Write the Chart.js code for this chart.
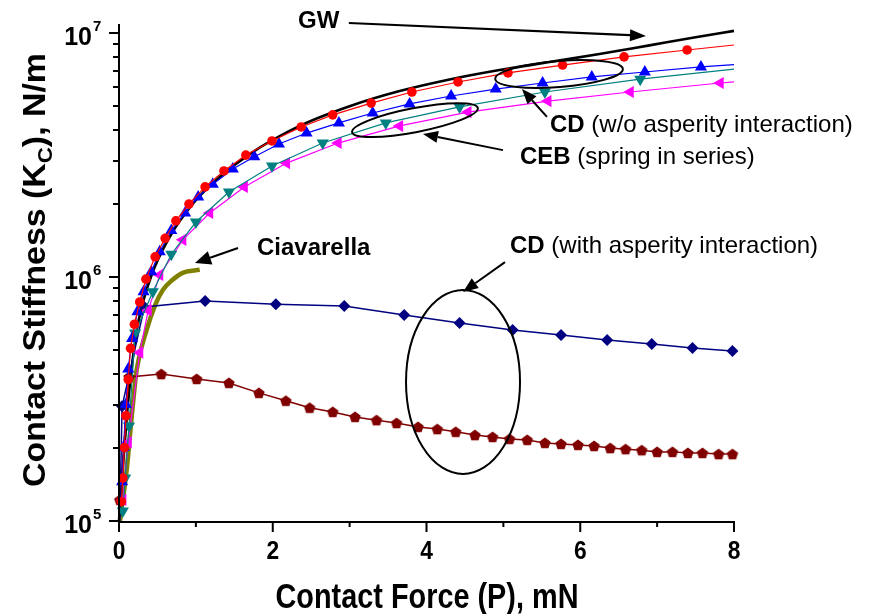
<!DOCTYPE html>
<html><head><meta charset="utf-8">
<script src="https://cdn.jsdelivr.net/npm/chart.js@4.4.1/dist/chart.umd.min.js"></script>
<style>html,body{margin:0;padding:0;background:#fff}#wrap{width:871px;height:614px}</style>
</head><body><div id="wrap"><canvas id="c" width="871" height="614"></canvas></div>
<script>
// ---------- data (force P in mN, stiffness Kc in N/m) ----------
const gwForce = [0, 0.03, 0.12, 0.23, 0.40, 0.66, 0.98, 1.31, 1.70, 2.35, 3.0, 3.65, 4.3, 4.95, 5.6, 6.25, 6.9, 7.5, 8.0];
const gwStiffness = [1.0e5, 1.35e5, 3.1e5, 6.0e5, 9.7e5, 1.46e6, 2.03e6, 2.57e6, 3.19e6, 4.16e6, 5.01e6, 5.78e6, 6.45e6, 7.05e6, 7.6e6, 8.2e6, 8.9e6, 9.6e6, 1.02e7];

const cdCircleForce = [0.03,0.05,0.07,0.09,0.12,0.15,0.2,0.27,0.35,0.47,0.60,0.74,0.91,1.12,1.365,1.65,1.99,2.37,2.78,3.28,3.81,4.41,5.06,5.77,6.57,7.39,8.0];
const cdCircleStiffness = [1.2e5,1.5e5,2.0e5,2.7e5,3.8e5,5.1e5,6.4e5,7.9e5,9.8e5,1.21e6,1.44e6,1.70e6,1.99e6,2.34e6,2.72e6,3.16e6,3.61e6,4.12e6,4.62e6,5.16e6,5.73e6,6.30e6,6.86e6,7.39e6,7.98e6,8.52e6,8.93e6];

const cdTriangleForce = [0.04,0.06,0.09,0.12,0.17,0.24,0.32,0.42,0.53,0.68,0.86,1.03,1.22,1.48,1.76,2.08,2.44,2.86,3.30,3.78,4.32,4.90,5.51,6.15,6.84,7.57,8.0];
const cdTriangleStiffness = [1.45e5,2.0e5,3.0e5,4.2e5,5.6e5,7.2e5,8.7e5,1.05e6,1.27e6,1.55e6,1.83e6,2.13e6,2.40e6,2.77e6,3.11e6,3.51e6,3.89e6,4.28e6,4.70e6,5.12e6,5.52e6,5.89e6,6.24e6,6.61e6,6.92e6,7.26e6,7.42e6];

const cebDownForce = [0.05,0.08,0.13,0.21,0.44,0.68,1.0,1.43,1.99,2.65,3.47,4.43,5.54,6.78,8.0];
const cebDownStiffness = [1.1e5,1.5e5,2.45e5,5.9e5,8.7e5,1.24e6,1.68e6,2.23e6,2.85e6,3.54e6,4.28e6,4.98e6,5.73e6,6.47e6,7.11e6];

const cebLeftForce = [0.05,0.12,0.27,0.38,0.53,0.83,1.18,1.63,2.18,2.85,3.65,4.54,5.58,6.65,7.82,8.0];
const cebLeftStiffness = [1.22e5,2.1e5,4.9e5,7.3e5,1.02e6,1.42e6,1.83e6,2.34e6,2.93e6,3.54e6,4.16e6,4.74e6,5.26e6,5.73e6,6.24e6,6.3e6];

const ciavarellaForce = [0.013,0.10,0.17,0.23,0.36,0.47,0.57,0.69,0.83,1.05];
const ciavarellaStiffness = [1.0e5,1.62e5,2.77e5,4.16e5,6.07e5,7.67e5,8.85e5,9.7e5,1.04e6,1.07e6];

const cdInterDiamondForce = [0.01,0.04,0.33,1.12,2.04,2.93,3.71,4.43,5.12,5.75,6.35,6.93,7.46,7.98];
const cdInterDiamondStiffness = [1.0e5,2.95e5,7.53e5,7.98e5,7.74e5,7.6e5,6.98e5,6.48e5,6.06e5,5.78e5,5.52e5,5.31e5,5.12e5,4.98e5];

const cdInterPentForce = [0.01,0.13,0.55,1.01,1.43,1.82,2.17,2.48,2.78,3.07,3.35,3.61,3.89,4.14,4.38,4.63,4.86,5.08,5.31,5.54,5.75,5.97,6.18,6.39,6.59,6.80,7.0,7.20,7.40,7.59,7.80,7.98];
const cdInterPentStiffness = [1.22e5,3.89e5,4.0e5,3.82e5,3.68e5,3.35e5,3.11e5,2.91e5,2.80e5,2.67e5,2.59e5,2.52e5,2.43e5,2.38e5,2.32e5,2.25e5,2.21e5,2.17e5,2.15e5,2.09e5,2.07e5,2.05e5,2.03e5,1.99e5,1.97e5,1.95e5,1.92e5,1.92e5,1.90e5,1.90e5,1.88e5,1.88e5];

// axis ticks
const xMajorTicks = [0, 2, 4, 6, 8];
const xMinorTicks = [1, 3, 5, 7];
const yDecadeExponents = [5, 6, 7];
const xTitle = 'Contact Force (P), mN';
const yTitleParts = ['Contact Stiffness (K', 'C', '), N/m'];

// ---------- helpers ----------
const FONT = '"Liberation Sans", Arial, Helvetica, sans-serif';
const pts = (xs, ys) => xs.map((x, i) => ({x, y: ys[i]}));
function pentagon(color, r) {
  const s = Math.ceil(2 * r + 2), c = document.createElement('canvas');
  c.width = s; c.height = s;
  const g = c.getContext('2d');
  g.fillStyle = color; g.beginPath();
  for (let i = 0; i < 5; i++) {
    const t = -Math.PI / 2 + i * 2 * Math.PI / 5;
    const px = s / 2 + r * Math.cos(t), py = s / 2 + r * Math.sin(t) + 0.5;
    i ? g.lineTo(px, py) : g.moveTo(px, py);
  }
  g.closePath(); g.fill();
  return c;
}
const noLast = r => ctx => ctx.dataIndex === ctx.dataset.data.length - 1 ? 0 : r;
const noFirst = r => ctx => ctx.dataIndex === 0 ? 0 : r;

function series(data, color, style, radius, width, extra) {
  return Object.assign({
    data, showLine: true, borderColor: color, backgroundColor: color,
    pointBackgroundColor: color, pointBorderColor: color, pointBorderWidth: 0,
    pointStyle: style, pointRadius: radius, pointHoverRadius: radius,
    borderWidth: width, tension: 0, clip: false
  }, extra || {});
}

// annotations in data coordinates (force, stiffness)
const annot = {
  gwText: [2.33, 1.048e7], gwArrow: [[2.99, 1.099e7], [6.855, 9.73e6]],
  ell1: [5.724, Math.pow(10, 6.832)],
  cdArrow: [[5.567, Math.pow(10, 6.656)], [5.242, Math.pow(10, 6.770)]],
  cdText: [5.607, Math.pow(10, 6.594)],
  ell2: [3.85, Math.pow(10, 6.643)],
  cebArrow: [[4.995, Math.pow(10, 6.520)], [3.954, Math.pow(10, 6.586)]],
  cebText: [5.216, Math.pow(10, 6.463)],
  ciaText: [1.795, Math.pow(10, 6.090)],
  ciaArrow: [[1.548, Math.pow(10, 6.119)], [0.989, Math.pow(10, 6.057)]],
  cdwText: [5.086, Math.pow(10, 6.098)],
  cdwArrow: [[5.021, Math.pow(10, 6.061)], [4.475, Math.pow(10, 5.939)]],
  ell3: [4.475, Math.pow(10, 5.570)]
};

function arrow(ctx, x1, y1, x2, y2, len, hw) {
  const a = Math.atan2(y2 - y1, x2 - x1);
  const bx = x2 - len * Math.cos(a), by = y2 - len * Math.sin(a);
  ctx.beginPath(); ctx.moveTo(x1, y1); ctx.lineTo(bx, by); ctx.stroke();
  ctx.beginPath(); ctx.moveTo(x2, y2);
  ctx.lineTo(bx + hw * Math.sin(a), by - hw * Math.cos(a));
  ctx.lineTo(bx - hw * Math.sin(a), by + hw * Math.cos(a));
  ctx.closePath(); ctx.fill();
}
function rich(ctx, parts, x, y) {
  let cx = x;
  for (const [t, bold] of parts) {
    ctx.font = (bold ? 'bold ' : '') + '24px ' + FONT;
    ctx.fillText(t, cx, y);
    cx += ctx.measureText(t).width;
  }
}

const decor = {
  id: 'decor',
  afterDraw(chart) {
    const ctx = chart.ctx, xs = chart.scales.x, ys = chart.scales.y, a = chart.chartArea;
    const X = v => xs.getPixelForValue(v), Y = v => ys.getPixelForValue(v);
    ctx.save();
    ctx.strokeStyle = '#000'; ctx.fillStyle = '#000'; ctx.lineWidth = 2; ctx.lineCap = 'butt';
    // axis lines
    ctx.beginPath(); ctx.moveTo(a.left, a.top); ctx.lineTo(a.left, a.bottom + 1); ctx.lineTo(a.right + 1, a.bottom + 1); ctx.stroke();
    // ticks
    ctx.beginPath();
    yDecadeExponents.forEach(e => {
      const y = Math.round(Y(Math.pow(10, e)));
      ctx.moveTo(a.left - 10, y); ctx.lineTo(a.left, y);
      if (e < 7) for (let m = 2; m <= 9; m++) { const ym = Math.round(Y(m * Math.pow(10, e))); ctx.moveTo(a.left - 6, ym); ctx.lineTo(a.left, ym); }
    });
    xMajorTicks.forEach(v => { const x = X(v); ctx.moveTo(x, a.bottom); ctx.lineTo(x, a.bottom + 11); });
    xMinorTicks.forEach(v => { const x = X(v); ctx.moveTo(x, a.bottom); ctx.lineTo(x, a.bottom + 6); });
    ctx.stroke();
    // tick labels
    ctx.textBaseline = 'alphabetic';
    ctx.textAlign = 'center';
    xMajorTicks.forEach(v => {
      ctx.save(); ctx.translate(X(v), 559); ctx.scale(0.95, 1.06);
      ctx.font = 'bold 24px ' + FONT; ctx.fillText(String(v), 0, 0); ctx.restore();
    });
    yDecadeExponents.forEach(e => {
      const y = Y(Math.pow(10, e));
      ctx.save(); ctx.translate(a.left - 27, y + 12); ctx.scale(1, 1.06);
      ctx.font = 'bold 25px ' + FONT; ctx.textAlign = 'right';
      ctx.fillText('10', 0, 0); ctx.restore();
      ctx.font = 'bold 15px ' + FONT; ctx.textAlign = 'left';
      ctx.fillText(String(e), a.left - 26, y - 2);
    });
    // x title
    ctx.font = 'bold 35px ' + FONT; ctx.textAlign = 'center';
    { const w = ctx.measureText(xTitle).width; ctx.save(); ctx.translate(427, 608); ctx.scale(303 / w, 1); ctx.fillText(xTitle, 0, 0); ctx.restore(); }
    // y title
    {
      ctx.save(); ctx.translate(45, 487); ctx.rotate(-Math.PI / 2); ctx.textAlign = 'left';
      ctx.font = 'bold 32px ' + FONT; const w1 = ctx.measureText(yTitleParts[0]).width, w3 = ctx.measureText(yTitleParts[2]).width;
      ctx.font = 'bold 21px ' + FONT; const w2 = ctx.measureText(yTitleParts[1]).width;
      ctx.scale(434 / (w1 + w2 + w3), 1);
      ctx.font = 'bold 32px ' + FONT; ctx.fillText(yTitleParts[0], 0, 0);
      ctx.font = 'bold 21px ' + FONT; ctx.fillText(yTitleParts[1], w1, 7);
      ctx.font = 'bold 32px ' + FONT; ctx.fillText(yTitleParts[2], w1 + w2, 0);
      ctx.restore();
    }
    // annotations
    ctx.textAlign = 'left';
    const P = p => [X(p[0]), Y(p[1])];
    let p = P(annot.gwText); rich(ctx, [['GW', true]], p[0], p[1]);
    ctx.lineWidth = 2.2;
    let q = annot.gwArrow.map(P); arrow(ctx, q[0][0], q[0][1], q[1][0], q[1][1], 16, 6);
    p = P(annot.cdText); rich(ctx, [['CD', true], [' (w/o asperity interaction)', false]], p[0], p[1]);
    p = P(annot.cebText); rich(ctx, [['CEB', true], [' (spring in series)', false]], p[0], p[1]);
    p = P(annot.cdwText); rich(ctx, [['CD', true], [' (with asperity interaction)', false]], p[0], p[1]);
    p = P(annot.ciaText); rich(ctx, [['Ciavarella', true]], p[0], p[1]);
    ctx.lineWidth = 2;
    q = annot.cdArrow.map(P); arrow(ctx, q[0][0], q[0][1], q[1][0], q[1][1], 15, 6);
    q = annot.cebArrow.map(P); arrow(ctx, q[0][0], q[0][1], q[1][0], q[1][1], 15, 6);
    q = annot.ciaArrow.map(P); arrow(ctx, q[0][0], q[0][1], q[1][0], q[1][1], 16, 7);
    q = annot.cdwArrow.map(P); arrow(ctx, q[0][0], q[0][1], q[1][0], q[1][1], 15, 6);
    ctx.lineWidth = 2;
    p = P(annot.ell1); ctx.beginPath(); ctx.ellipse(p[0], p[1], 64, 13, -4.5 * Math.PI / 180, 0, 2 * Math.PI); ctx.stroke();
    p = P(annot.ell2); ctx.beginPath(); ctx.ellipse(p[0], p[1], 64, 12, -10.9 * Math.PI / 180, 0, 2 * Math.PI); ctx.stroke();
    p = P(annot.ell3); ctx.beginPath(); ctx.ellipse(p[0], p[1], 57, 92, 0, 0, 2 * Math.PI); ctx.stroke();
    ctx.restore();
  }
};

new Chart(document.getElementById('c'), {
  type: 'scatter',
  data: {
    datasets: [
      series(pts(cdCircleForce, cdCircleStiffness), '#ff0000', 'circle', noLast(4.8), 1.2),
      series(pts(cdTriangleForce, cdTriangleStiffness), '#0000ff', 'triangle', noLast(7), 1.2),
      series(pts(cebDownForce, cebDownStiffness), '#008080', 'triangle', noLast(7), 1.2, {pointRotation: 180}),
      series(pts(cebLeftForce, cebLeftStiffness), '#ff00ff', 'triangle', noLast(7), 1.2, {pointRotation: 270}),
      series(pts(cdInterDiamondForce, cdInterDiamondStiffness), '#000080', 'rectRot', noFirst(6), 1.5),
      series(pts(cdInterPentForce, cdInterPentStiffness), '#800000', pentagon('#800000', 6), 6, 1.5),
      series(pts(gwForce, gwStiffness), '#000000', 'circle', 0, 2.6, {cubicInterpolationMode: 'monotone'}),
      series(pts(ciavarellaForce, ciavarellaStiffness), '#808000', 'circle', 0, 4.5, {cubicInterpolationMode: 'monotone'})
    ]
  },
  options: {
    responsive: false, animation: false, devicePixelRatio: 1,
    layout: {padding: {left: 119, right: 137, top: 24, bottom: 93}},
    plugins: {legend: {display: false}, tooltip: {enabled: false}},
    scales: {
      x: {type: 'linear', min: 0, max: 8, display: false},
      y: {type: 'logarithmic', min: 1e5, max: 1.0887e7, display: false}
    }
  },
  plugins: [decor]
});
</script></body></html>
